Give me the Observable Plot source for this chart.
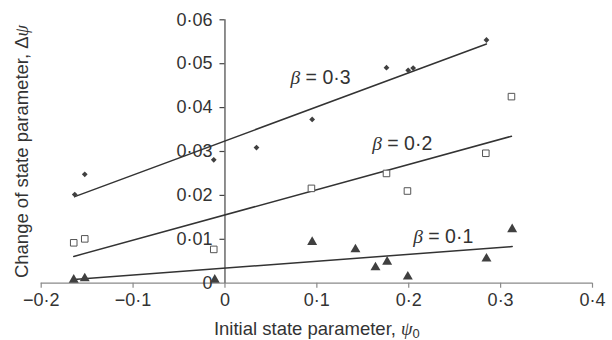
<!DOCTYPE html>
<html><head><meta charset="utf-8">
<script src="https://cdn.jsdelivr.net/npm/d3@7"></script>
<script src="https://cdn.jsdelivr.net/npm/@observablehq/plot@0.6"></script>
<style>body{margin:0;background:#fff}#chart svg{display:block}</style>
</head><body><div id="chart"></div>
<script>
// β = 0·3 (diamonds)
const psiB3 = [-0.1635, -0.1526, -0.0122, 0.0343, 0.0949, 0.1758, 0.1994, 0.2048, 0.2846];
const dpsiB3 = [0.0202, 0.0248, 0.0281, 0.0309, 0.0373, 0.0491, 0.0485, 0.0490, 0.0554];
// β = 0·2 (open squares)
const psiB2 = [-0.1646, -0.1526, -0.0122, 0.0941, 0.1758, 0.1986, 0.2839, 0.3118];
const dpsiB2 = [0.0092, 0.0101, 0.0077, 0.0216, 0.0250, 0.0210, 0.0296, 0.0425];
// β = 0·1 (triangles)
const psiB1 = [-0.1646, -0.1526, -0.0111, 0.0949, 0.1420, 0.1638, 0.1765, 0.1990, 0.2846, 0.3126];
const dpsiB1 = [0.0011, 0.0014, 0.0011, 0.0097, 0.0080, 0.0039, 0.0052, 0.0018, 0.0059, 0.0126];

const xTicks = [-0.2, -0.1, 0, 0.1, 0.2, 0.3, 0.4];
const xTickLabels = ["\u22120\u00B72", "\u22120\u00B71", "0", "0\u00B71", "0\u00B72", "0\u00B73", "0\u00B74"];
const yTicks = [0, 0.01, 0.02, 0.03, 0.04, 0.05, 0.06];
const yTickLabels = ["0", "0\u00B701", "0\u00B702", "0\u00B703", "0\u00B704", "0\u00B705", "0\u00B706"];

const seriesLabels = ["\u03B2 = 0\u00B73", "\u03B2 = 0\u00B72", "\u03B2 = 0\u00B71"];
const labelX = [0.0713, 0.1602, 0.2048];
const labelY = [0.0467, 0.0318, 0.01064];

const xTitle = "Initial state parameter, \u03C80";
const yTitle = "Change of state parameter, \u0394\u03C8";

const toRows = (xs, ys) => xs.map((x, i) => ({x, y: ys[i]}));
const s3 = toRows(psiB3, dpsiB3);
const s2 = toRows(psiB2, dpsiB2);
const s1 = toRows(psiB1, dpsiB1);
const labels = seriesLabels.map((t, i) => ({t, x: labelX[i], y: labelY[i]}));

const ink = "#333333";
const svg = Plot.plot({
  width: 612, height: 340,
  marginLeft: 40.7, marginRight: 20, marginTop: 19.3, marginBottom: 57.3,
  x: {domain: [xTicks[0], xTicks[xTicks.length - 1]], axis: null},
  y: {domain: [yTicks[0], yTicks[yTicks.length - 1]], axis: null},
  style: {fontFamily: "'Liberation Sans', Arial, sans-serif", fontSize: "18px", color: ink, background: "#fff"},
  marks: [
    Plot.ruleY([0], {x1: xTicks[0], x2: xTicks[xTicks.length - 1], stroke: "#8a8a8a", strokeWidth: 1.2}),
    Plot.ruleX(xTicks, {x: d => d, y1: 0, y2: 0, insetBottom: -5, stroke: "#8a8a8a", strokeWidth: 1.2}),
    Plot.ruleX([0], {y1: 0, y2: yTicks[yTicks.length - 1], stroke: "#444", strokeWidth: 1.2}),
    Plot.ruleY(yTicks.slice(1), {y: d => d, x1: 0, x2: 0, insetLeft: -5, stroke: "#444", strokeWidth: 1.2}),
    Plot.text(yTicks, {x: 0, y: d => d, text: (d, i) => yTickLabels[i], textAnchor: "end", dx: -12.5, fill: ink}),
    Plot.text(xTicks, {x: d => d, y: 0, text: (d, i) => xTickLabels[i], dy: 17.5, fill: ink}),
    Plot.linearRegressionY(s3, {x: "x", y: "y", ci: 0, stroke: ink, strokeWidth: 1.5}),
    Plot.linearRegressionY(s2, {x: "x", y: "y", ci: 0, stroke: ink, strokeWidth: 1.5}),
    Plot.linearRegressionY(s1, {x: "x", y: "y", ci: 0, stroke: ink, strokeWidth: 1.5}),
    Plot.dot(s3, {x: "x", y: "y", symbol: "diamond2", r: 2.6, fill: "#404040", stroke: "none"}),
    Plot.dot(s2, {x: "x", y: "y", symbol: "square", r: 3.7, fill: "#fff", stroke: "#555", strokeWidth: 1}),
    Plot.dot(s1, {x: "x", y: "y", symbol: "triangle", r: 3.7, fill: "#404040", stroke: "none", dy: 1.4}),
    Plot.text(labels, {x: "x", y: "y", text: "t", textAnchor: "start", fontSize: 19.5, fill: ink}),
    Plot.text([xTitle], {frameAnchor: "bottom", lineAnchor: "middle", textAnchor: "middle", dy: 46, text: d => d, fontSize: 18.5, fill: ink}),
    Plot.text([yTitle], {frameAnchor: "left", lineAnchor: "middle", textAnchor: "middle", dx: -19, rotate: -90, text: d => d, fontSize: 18.5, fill: ink})
  ]
});

// Greek letters in italic serif, subscript digit after ψ
const ns = "http://www.w3.org/2000/svg";
const serif = "'Liberation Serif', 'DejaVu Serif', serif";
svg.querySelectorAll("text").forEach(t => {
  const s = t.textContent;
  if (!/[\u03B2\u03C8]/.test(s)) return;
  t.textContent = "";
  let buf = "";
  const flush = () => {
    if (buf) { const sp = document.createElementNS(ns, "tspan"); sp.textContent = buf; t.appendChild(sp); buf = ""; }
  };
  for (let k = 0; k < s.length; k++) {
    const ch = s[k];
    if (ch === "\u03B2" || ch === "\u03C8") {
      flush();
      const sp = document.createElementNS(ns, "tspan");
      sp.setAttribute("font-family", serif);
      sp.setAttribute("font-style", "italic");
      sp.textContent = ch;
      t.appendChild(sp);
      if (ch === "\u03C8" && /\d/.test(s[k + 1] || "")) {
        const sub = document.createElementNS(ns, "tspan");
        sub.setAttribute("font-size", "0.7em");
        sub.setAttribute("dy", "0.2em");
        sub.textContent = s[k + 1];
        t.appendChild(sub);
        k++;
      }
    } else buf += ch;
  }
  flush();
});

document.getElementById("chart").appendChild(svg);
</script>
</body></html>
